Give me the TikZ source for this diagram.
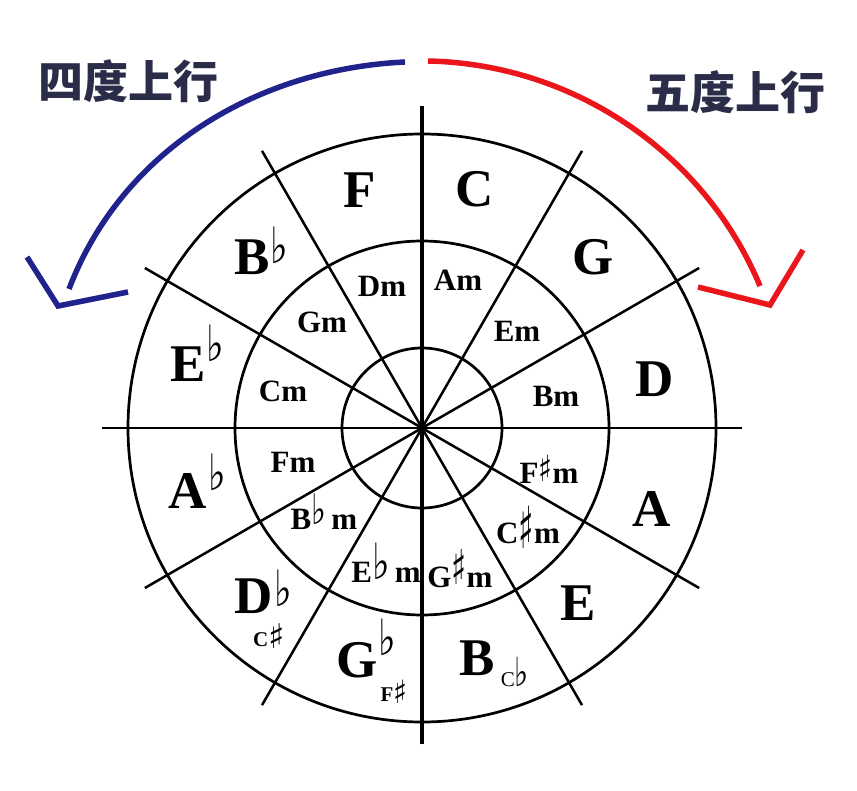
\documentclass[tikz,border=0pt]{standalone}
\usepackage{fontspec}
\setmainfont{Liberation Serif}
\newfontfamily\cjkfont{Noto Sans CJK SC}
\newfontfamily\musicfont{DejaVu Sans}
\usetikzlibrary{positioning}

\definecolor{headnavy}{RGB}{42,44,72}
\definecolor{fourthblue}{RGB}{33,35,140}
\definecolor{fifthred}{RGB}{234,22,28}

% accidentals: raise, size (and horizontal squeeze for sharps)
\newcommand{\flatmark}[2]{\raisebox{#1}{\scalebox{0.75}[1]{\musicfont\fontsize{#2}{#2}\selectfont ♭}}}
\newcommand{\keyflat}[1]{\rlap{\kern1pt\flatmark{#1}{50}}}
\newcommand{\sharpmark}[3]{\raisebox{#1}{\scalebox{#3}[1]{\musicfont\fontsize{#2}{#2}\selectfont ♯}}}

\begin{document}
\begin{tikzpicture}[
    x=1pt, y=-1pt,
    major/.style={
        anchor=base,
        inner sep=0pt,
        font=\fontsize{53}{53}\selectfont\bfseries
    },
    minor/.style={
        anchor=base,
        inner sep=0pt,
        font=\fontsize{31}{31}\selectfont\bfseries
    },
    enharm/.style={
        anchor=base,
        inner sep=0pt,
        font=\fontsize{21}{21}\selectfont\bfseries
    },
    heading/.style={
        inner sep=0pt,
        text=headnavy,
        font=\cjkfont\bfseries\fontsize{45}{45}\selectfont
    },
    ring/.style={line width=2.7pt},
    spoke/.style={line width=2.5pt},
    bow/.style={line width=5.5pt},
    chevron/.style={line width=5.5pt, line join=miter}
]

\useasboundingbox (0,0) rectangle (857,791);

% rings and spokes
\coordinate (hub) at (422,428);
\foreach \r in {80,187,294}
    \draw[ring] (hub) circle[radius=\r];
\foreach \a in {0,30,60,120,150}
    \draw[spoke] ([shift={(\a:320)}]hub) -- ([shift={(\a+180:320)}]hub);
\draw[spoke, line width=3.4pt] ([shift={(90:316)}]hub) -- ([shift={(270:322)}]hub);

% major keys
\node[major] (keyC) at (475,207) {C};
\node[major] (keyG) at (593,275) {G};
\node[major] (keyD) at (655,397) {D};
\node[major] (keyA) at (652,526) {A};
\node[major] (keyE) at (578,620) {E};
\node[major] (keyB) at (477,675) {B};
\node[major] (keyGb) at (357,677) {G\keyflat{22pt}};
\node[major] (keyDb) at (254,613) {D\keyflat{7pt}};
\node[major] (keyAb) at (188,508) {A\keyflat{18pt}};
\node[major] (keyEb) at (188,382) {E\keyflat{20pt}};
\node[major] (keyBb) at (252,275) {B\keyflat{11pt}};
\node[major] (keyF) at (360,208) {F};

\node[enharm] (keyCb) at (515,686) {\mdseries C\flatmark{0pt}{40}};
\node[enharm] (keyFs) at (394,701) {F\sharpmark{-2pt}{32}{0.9}};
\node[enharm] (keyCs) at (269,646) {C\sharpmark{-2pt}{34}{1}};

% minor keys
\node[minor] (minA) at (458,291) {Am};
\node[minor] (minE) at (517,342) {Em};
\node[minor] (minB) at (556,407) {Bm};
\node[minor] (minFs) at (549,483) {F\sharpmark{2pt}{36}{0.8}m};
\node[minor] (minCs) at (528,543) {C\sharpmark{-5pt}{58}{0.55}m};
\node[minor] (minGs) at (460,587) {G\sharpmark{3pt}{48}{0.65}m};
\node[minor] (minEb) at (386,582) {E\flatmark{3pt}{50}\,m};
\node[minor] (minBb) at (324,529) {B\flatmark{5pt}{42}\,m};
\node[minor] (minF) at (293,472) {Fm};
\node[minor] (minC) at (283,402) {Cm};
\node[minor] (minG) at (322,333) {Gm};
\node[minor] (minD) at (382,297) {Dm};

% headings
\node[heading] (fourthup) at (128,81) {四度上行};
\node[heading] (fifthup) at (735,92) {五度上行};

% bows
\coordinate (fourthtail) at (405,62);
\coordinate (fourthtip) at (69,289);
\coordinate (fifthtail) at (428,61);
\coordinate (fifthtip) at (760,286);

\draw[bow, fourthblue] (fourthtail) .. controls (257,69) and (122,150) .. (fourthtip);
\draw[chevron, fourthblue] (27,257) -- (58,306) -- (128,292);

\draw[bow, fifthred] (fifthtail) .. controls (573,64) and (704,152) .. (fifthtip);
\draw[chevron, fifthred] (698,287) -- (770,305) -- (803,250);

\end{tikzpicture}
\end{document}
